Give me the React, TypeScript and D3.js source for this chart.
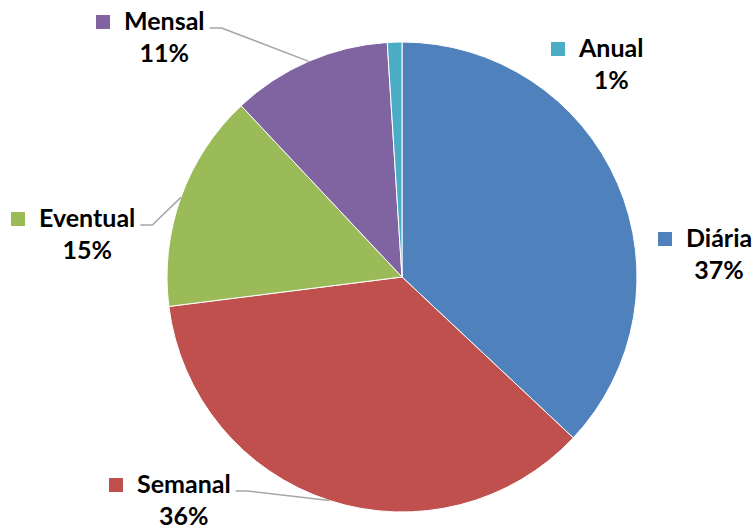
import React, { useEffect, useRef } from 'react';
import * as d3 from 'd3';

const categories = ['Diária', 'Semanal', 'Eventual', 'Mensal', 'Anual'];
const values = [37, 36, 15, 11, 1];
const colors = ['#4F81BD', '#C0504D', '#9BBB59', '#8064A2', '#4BACC6'];

// label anchor: x = left of the text, y = baseline of the name line
const labelPos = [
  { x: 686, y: 247, leader: null },
  { x: 137, y: 493, leader: 'left' },
  { x: 39, y: 227, leader: 'left' },
  { x: 124, y: 30, leader: 'left' },
  { x: 579, y: 57, leader: null },
];

const W = 756;
const H = 529;
const cx = 402;
const cy = 277;
const R = 235;

export default function App() {
  const svgRef = useRef<SVGSVGElement>(null);

  useEffect(() => {
    if (!svgRef.current) return;
    const svg = d3.select(svgRef.current);
    svg.selectAll('*').remove();

    const data = categories.map((c, i) => ({ name: c, value: values[i], color: colors[i] }));
    const pie = d3.pie<any>().value(d => d.value).sort(null);
    const arcs = pie(data);
    const arc = d3.arc<any>().innerRadius(0).outerRadius(R);

    const g = svg.append('g').attr('transform', `translate(${cx},${cy})`);
    g.selectAll('path.slice')
      .data(arcs)
      .enter().append('path')
      .attr('class', 'slice')
      .attr('d', arc as any)
      .attr('fill', d => d.data.color)
      .attr('stroke', '#ffffff')
      .attr('stroke-width', 1);

    const font = 'Lato, Calibri, sans-serif';
    const total = d3.sum(values);

    arcs.forEach((a, i) => {
      const p = labelPos[i];
      const lg = svg.append('g');
      const txt = lg.append('text')
        .attr('x', p.x)
        .attr('y', p.y)
        .style('font-family', font)
        .style('font-size', '25px')
        .style('font-weight', 'bold')
        .style('fill', '#000')
        .text(a.data.name);
      const tw = (txt.node() as SVGTextElement).getComputedTextLength();

      lg.append('rect')
        .attr('x', p.x - 28)
        .attr('y', p.y - 15)
        .attr('width', 14)
        .attr('height', 14)
        .attr('fill', a.data.color);

      lg.append('text')
        .attr('x', p.x + tw / 2)
        .attr('y', p.y + 32)
        .attr('text-anchor', 'middle')
        .style('font-family', font)
        .style('font-size', '25px')
        .style('font-weight', 'bold')
        .style('fill', '#000')
        .text(`${Math.round((a.data.value / total) * 100)}%`);

      if (p.leader) {
        const mid = (a.startAngle + a.endAngle) / 2;
        const ex = cx + R * Math.sin(mid);
        const ey = cy - R * Math.cos(mid);
        const sx = p.x + tw + 5;
        const sy = p.y - 2;
        const line = d3.line();
        svg.append('path')
          .attr('d', line([[sx, sy], [sx + 12, sy], [ex, ey]]))
          .attr('fill', 'none')
          .attr('stroke', '#a6a6a6')
          .attr('stroke-width', 1.5);
      }
    });
  }, []);

  return (
    <svg
      ref={svgRef}
      width={W}
      height={H}
      style={{ position: 'absolute', left: 0, top: 0, background: '#fff' }}
    />
  );
}
